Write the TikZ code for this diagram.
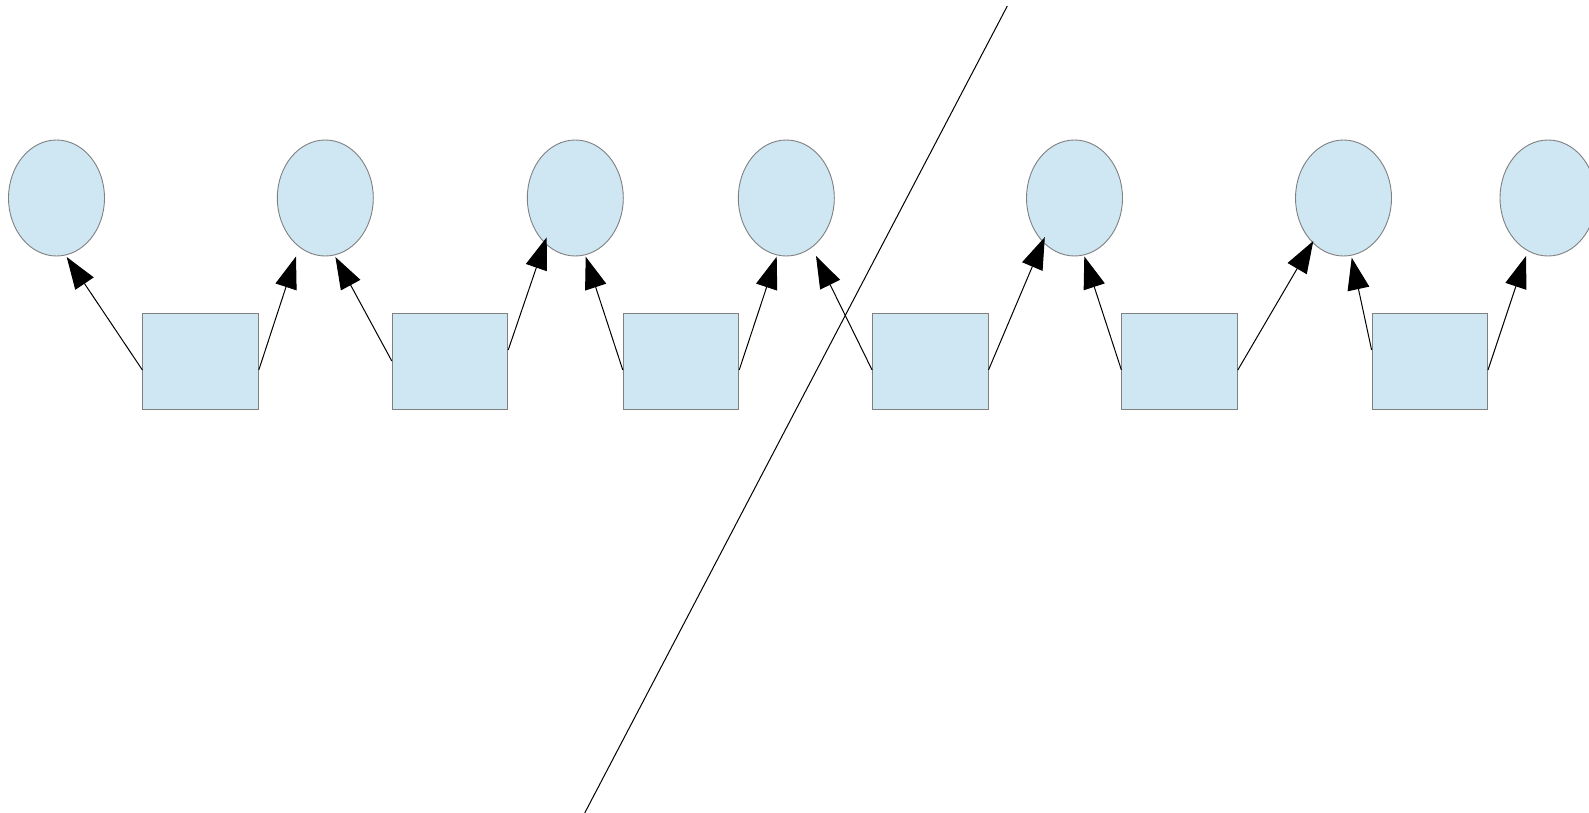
\documentclass[tikz,border=0pt]{standalone}
\usetikzlibrary{shapes.geometric,arrows.meta,calc}
\definecolor{fillblue}{RGB}{207,230,243}
\definecolor{edgegray}{RGB}{128,128,128}
\tikzset{
  oval/.style={ellipse,draw=edgegray,fill=fillblue,line width=0.9pt,minimum width=96pt,minimum height=116pt,inner sep=0pt},
  boxnode/.style={rectangle,draw=edgegray,fill=fillblue,line width=0.9pt,minimum width=115.5pt,minimum height=96pt,inner sep=0pt},
  conn/.style={draw=black,line width=1pt,-{Triangle[length=32pt,width=22pt]}},
  cutline/.style={draw=black,line width=1pt}
}
\begin{document}
\begin{tikzpicture}[x=1pt,y=-1pt]
\clip (0,0) rectangle (1589,813);
\fill[white] (0,0) rectangle (1589,813);
% ellipses
\node[oval] (e1) at (56.5,198) {};
\node[oval] (e2) at (325.3,198) {};
\node[oval] (e3) at (575.3,198) {};
\node[oval] (e4) at (786.3,198) {};
\node[oval] (e5) at (1074.5,198) {};
\node[oval] (e6) at (1343.5,198) {};
\node[oval] (e7) at (1548,198) {};
% boxes
\node[boxnode] (b1) at (200.6,361) {};
\node[boxnode] (b2) at (450,361) {};
\node[boxnode] (b3) at (681,361) {};
\node[boxnode] (b4) at (930.3,361) {};
\node[boxnode] (b5) at (1179.6,361) {};
\node[boxnode] (b6) at (1429.8,361) {};
% arrow tips
\coordinate (t1) at (66.7,257);
\coordinate (t2) at (296,256.5);
\coordinate (t3) at (335.4,257);
\coordinate (t4) at (546.7,237.3);
\coordinate (t5) at (585.7,256.7);
\coordinate (t6) at (776.7,256.7);
\coordinate (t7) at (816,256);
\coordinate (t8) at (1044.8,237.1);
\coordinate (t9) at (1084.3,256.4);
\coordinate (t10) at (1313.3,241);
\coordinate (t11) at (1351.7,257.7);
\coordinate (t12) at (1526,256);
% connectors
\draw[conn] ($(b1.west)+(0,9)$) -- (t1);
\draw[conn] ($(b1.east)+(0,9)$) -- (t2);
\draw[conn] (b2.west) -- (t3);
\draw[conn] ($(b2.east)+(0,-11)$) -- (t4);
\draw[conn] ($(b3.west)+(0,9)$) -- (t5);
\draw[conn] ($(b3.east)+(0,9)$) -- (t6);
\draw[conn] ($(b4.west)+(0,9)$) -- (t7);
\draw[conn] ($(b4.east)+(0,9)$) -- (t8);
\draw[conn] ($(b5.west)+(0,9)$) -- (t9);
\draw[conn] ($(b5.east)+(0,9)$) -- (t10);
\draw[conn] ($(b6.west)+(0,-11)$) -- (t11);
\draw[conn] ($(b6.east)+(0,9)$) -- (t12);
% diagonal line
\coordinate (la) at (1007.3,6);
\coordinate (lb) at (584.7,813);
\draw[cutline] (la) -- (lb);
\end{tikzpicture}
\end{document}
